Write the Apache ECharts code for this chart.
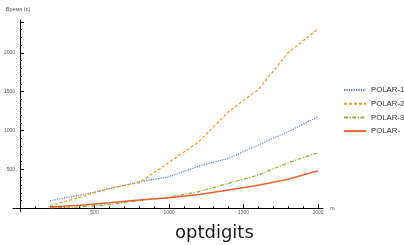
<!DOCTYPE html>
<html>
<head>
<meta charset="utf-8">
<script src="https://cdn.jsdelivr.net/npm/echarts@6/dist/echarts.min.js"></script>
<style>
  html, body { margin: 0; padding: 0; background: #fff; }
  #chart { width: 404px; height: 245px; }
</style>
</head>
<body>
<div id="chart"></div>
<script>
// training set size m
const sizes = [200, 400, 600, 800, 1000, 1200, 1400, 1600, 1800, 2000];
// time, seconds
const polar1 = [98, 168, 252, 340, 405, 544, 643, 815, 986, 1179];
const polar2 = [35, 140, 258, 330, 590, 857, 1245, 1530, 2003, 2308];
const polar3 = [8, 18, 48, 98, 142, 215, 321, 429, 587, 716];
const polar0 = [16, 40, 70, 107, 136, 178, 236, 296, 373, 484];
const seriesNames = ['POLAR-1', 'POLAR-2', 'POLAR-3', 'POLAR-'];
const xTicks = [500, 1000, 1500, 2000];
const yTicks = [500, 1000, 1500, 2000];

const chart = echarts.init(document.getElementById('chart'));

const labelFont = { fontFamily: 'Liberation Sans', fontSize: 5, color: '#555' };
const pairs = arr => arr.map((v, i) => [sizes[i], v]);

const line = (name, data, color, type, width) => ({
  name: name,
  type: 'line',
  data: pairs(data),
  symbol: 'none',
  xAxisIndex: 0,
  yAxisIndex: 0,
  color: color,
  lineStyle: { color: color, width: width, type: type },
  animation: false
});

chart.setOption({
  animation: false,
  title: {
    text: 'optdigits',
    left: 170,
    top: 219,
    textStyle: { fontFamily: 'DejaVu Sans', fontSize: 18, fontWeight: 'normal', color: '#1a1a1a' }
  },
  legend: {
    orient: 'vertical',
    left: 343,
    top: 86,
    padding: 0,
    itemWidth: 22,
    itemHeight: 8,
    itemGap: 5.7,
    itemStyle: { opacity: 0 },
    textStyle: { fontFamily: 'Liberation Sans', fontSize: 7.8, color: '#333' },
    data: seriesNames
  },
  grid: [
    // data area
    { left: 20, top: 21.8, width: 298, height: 186.5 },
    // axis frame (axes cross at the origin, a bit of padding past it)
    { left: 13, top: 20, width: 310, height: 191.7 }
  ],
  xAxis: [
    {
      type: 'value', gridIndex: 0, min: 0, max: 2000, interval: 500,
      axisLine: { show: false },
      axisTick: { inside: true, length: 4, lineStyle: { color: '#000' } },
      minorTick: { show: true, splitNumber: 5, length: 2, lineStyle: { color: '#000' } },
      splitLine: { show: false },
      axisLabel: Object.assign({ margin: 2, formatter: v => xTicks.includes(v) ? String(v) : '' }, labelFont)
    },
    {
      type: 'value', gridIndex: 1, min: -47, max: 2033,
      axisLine: { onZero: true, lineStyle: { color: '#000', width: 1 } },
      axisTick: { show: false }, axisLabel: { show: false }, splitLine: { show: false },
      name: 'm', nameLocation: 'end', nameGap: 7,
      nameTextStyle: { fontFamily: 'Liberation Sans', fontSize: 5.5, color: '#555', verticalAlign: 'middle' }
    }
  ],
  yAxis: [
    {
      type: 'value', gridIndex: 0, min: 0, max: 2400, interval: 500, position: 'left',
      axisLine: { show: false },
      axisTick: { inside: true, length: 4, lineStyle: { color: '#000' } },
      splitLine: { show: false },
      axisLabel: Object.assign({ margin: 5, formatter: v => yTicks.includes(v) ? String(v) : '' }, labelFont)
    },
    {
      // minor ticks every 100
      type: 'value', gridIndex: 0, min: 0, max: 2400, interval: 100, position: 'left', offset: 0,
      axisLine: { show: false },
      axisTick: { inside: true, length: 2, lineStyle: { color: '#000' } },
      axisLabel: { show: false }, splitLine: { show: false }
    },
    {
      type: 'value', gridIndex: 1, min: -44, max: 2423,
      axisLine: { onZero: true, lineStyle: { color: '#000', width: 1 } },
      axisTick: { show: false }, axisLabel: { show: false }, splitLine: { show: false },
      name: 'Время (с)', nameLocation: 'end', nameGap: 8,
      nameTextStyle: { fontFamily: 'Liberation Sans', fontSize: 5.5, color: '#555', align: 'center', padding: [0, 4, 0, 0] }
    }
  ],
  series: [
    line(seriesNames[0], polar1, '#5E81B5', [1.2, 1.2], 1.2),
    line(seriesNames[1], polar2, '#E19C24', [3, 2], 1.2),
    line(seriesNames[2], polar3, '#8FB032', [4, 1.5, 1.2, 1.5], 1.2),
    line(seriesNames[3], polar0, '#EB6235', 'solid', 1.5)
  ]
});
</script>
</body>
</html>
